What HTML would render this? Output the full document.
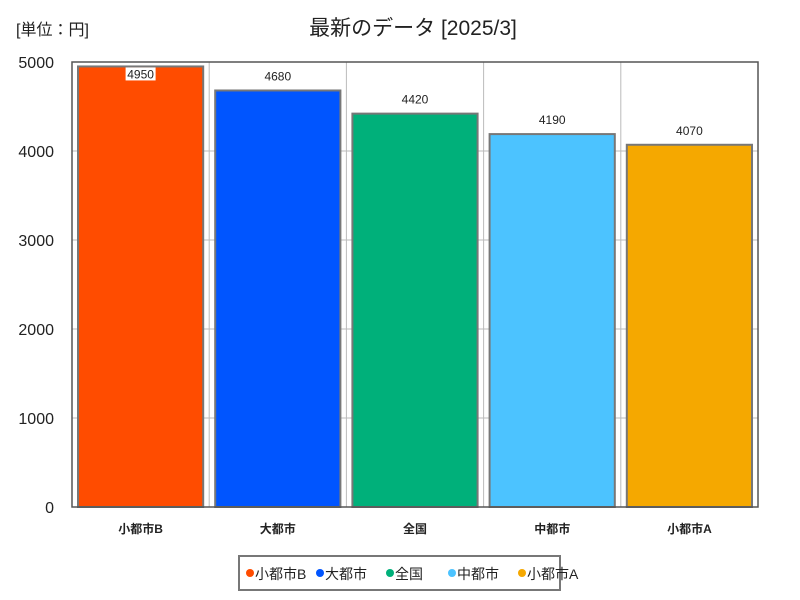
<!DOCTYPE html>
<html><head><meta charset="utf-8"><style>
body{margin:0;background:#fff;font-family:"Liberation Sans","Noto Sans CJK JP",sans-serif}
svg{display:block}
</style></head><body>
<svg id="c" width="800" height="600" xmlns="http://www.w3.org/2000/svg">
<text x="16" y="35" font-size="16" fill="#222">[単位：円]</text>
<text x="413" y="35" font-size="21" fill="#222" text-anchor="middle">最新のデータ [2025/3]</text>
<g id="grid"></g><g id="bars"></g><g id="axis"></g>
<rect x="239" y="556" width="321" height="34" fill="#fff" stroke="#777" stroke-width="2"/>
<g id="legend"></g>
</svg>
<script>
const categories=["小都市B","大都市","全国","中都市","小都市A"];
const values=[4950,4680,4420,4190,4070];
const colors=["#ff4c00","#0055ff","#00b07a","#4cc3ff","#f5a800"];
const ticks=[0,1000,2000,3000,4000,5000];
const NS="http://www.w3.org/2000/svg";
const L=72,R=758,T=62,B=507,YMAX=5000;
const y=v=>B-(v/YMAX)*(B-T);
const slot=(R-L)/categories.length;
const x=i=>L+i*slot;
function mk(tag,attrs,parent,txt){const e=document.createElementNS(NS,tag);for(const k in attrs)e.setAttribute(k,attrs[k]);if(txt!==undefined)e.textContent=txt;document.getElementById(parent).appendChild(e);return e;}
ticks.forEach(t=>{
 const g=mk('line',{x1:L,x2:R,y1:y(t),y2:y(t),stroke:'#bbb','stroke-width':1},'grid');
 
 
 const tl=mk('text',{x:L-18,y:y(t)+6,'font-size':16,'text-anchor':'end',fill:'#222'},'axis',t);
 
 
});
for(let i=1;i<categories.length;i++){
 const g=mk('line',{x1:x(i),x2:x(i),y1:T,y2:B,stroke:'#bbb','stroke-width':1},'grid');
 
 
}
const fr=mk('rect',{x:L,y:T,width:R-L,height:B-T,fill:'none',stroke:'#555','stroke-width':1.5},'axis');


categories.forEach((c,i)=>{
 const bx=x(i)+6,bw=slot-12,by=y(values[i]);
 const r=mk('rect',{x:bx,y:by,width:bw,height:B-by,fill:colors[i],stroke:'#777','stroke-width':2},'bars');
 
 
 const cx=x(i)+slot/2;
 const inside=by<T+20;
 if(inside){const bg=mk('rect',{x:cx-15,y:by+1,width:30,height:13,fill:'#fff'},'bars');
  
  }
 const vl=mk('text',{x:cx,y:inside?by+12:by-10,'font-size':12,'text-anchor':'middle',fill:'#222'},'bars',values[i]);
 
 
 const xl=mk('text',{x:cx,y:533,'font-size':12,'font-weight':'bold','text-anchor':'middle',fill:'#222'},'axis',c);
 
 
});
let lx=250;
const widths=[68,64,56,64,64];
categories.forEach((c,i)=>{
 const d=mk('circle',{cx:lx,cy:573,r:4,fill:colors[i]},'legend');
 
 
 const t=mk('text',{x:lx+5,y:579,'font-size':14,fill:'#222'},'legend',c);
 
 
 lx+=widths[i]+(i==0?2:6);
});
</script>
</body></html>
